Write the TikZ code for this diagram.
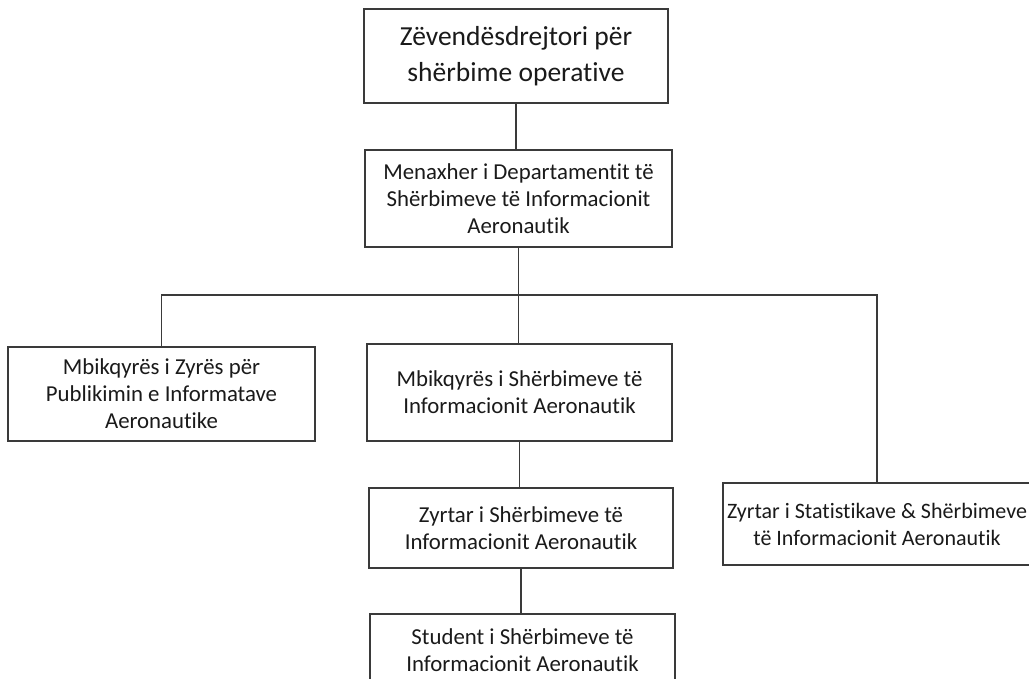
\documentclass[tikz,border=0pt]{standalone}
\usepackage{fontspec}
\setmainfont{Carlito}[RawFeature={-liga}]
\newcommand{\headfont}{\fontsize{27.5}{36}\selectfont}
\newcommand{\unitfont}{\fontsize{22.8}{27}\selectfont}
\newcommand{\widefont}{\fontsize{22}{27}\selectfont}
\definecolor{ink}{HTML}{1A1A1A}
\definecolor{rule}{HTML}{3A3A3A}
\tikzset{
  orgbox/.style={draw=rule, line width=1.3pt, fill=white, text=ink,
    align=center, inner sep=0pt, font=\unitfont},
  link/.style={draw=rule, line width=1.2pt}
}
\begin{document}
\begin{tikzpicture}[x=1pt, y=-1pt]
  \useasboundingbox (0,0) rectangle (1029,678);
  \clip (0,0) rectangle (1029,678);
  \fill[white] (0,0) rectangle (1029,678);

  % boxes of the chart
  \node[orgbox, font=\headfont, minimum width=304pt, minimum height=94pt] (head) at (516,56)
    {Zëvendësdrejtori për\\shërbime operative};
  \node[orgbox, minimum width=307pt, minimum height=97pt] (dept) at (518.5,198.5)
    {Menaxher i Departamentit të\\Shërbimeve të Informacionit\\Aeronautik};
  \node[orgbox, minimum width=307pt, minimum height=94pt] (pub) at (161.5,394)
    {Mbikqyrës i Zyrës për\\Publikimin e Informatave\\Aeronautike};
  \node[orgbox, minimum width=305pt, minimum height=97pt] (sup) at (519.5,392.5)
    {Mbikqyrës i Shërbimeve të\\Informacionit Aeronautik};
  \node[orgbox, minimum width=304pt, minimum height=80pt] (off) at (521,528)
    {Zyrtar i Shërbimeve të\\Informacionit Aeronautik};
  \node[orgbox, minimum width=305pt, minimum height=72pt] (stud) at (522.5,650)
    {Student i Shërbimeve të\\Informacionit Aeronautik};
  \draw[rule, line width=1.3pt, fill=white] (723,483) rectangle (1040,565);
  \node[text=ink, align=center, font=\widefont, inner sep=0pt] (stat) at (877,524)
    {Zyrtar i Statistikave \& Shërbimeve\\të Informacionit Aeronautik};

  % connectors
  \coordinate (bus) at (0,295);
  \draw[link] (head.south) -- (head.south |- dept.north);
  \draw[link] (dept.south) -- (dept.south |- sup.north);
  \draw[link] (pub.north) |- (stat.center |- bus) -- (stat.center |- 0,483);
  \draw[link] (sup.south) -- (sup.south |- off.north);
  \draw[link] (off.south) -- (off.south |- stud.north);
\end{tikzpicture}
\end{document}
